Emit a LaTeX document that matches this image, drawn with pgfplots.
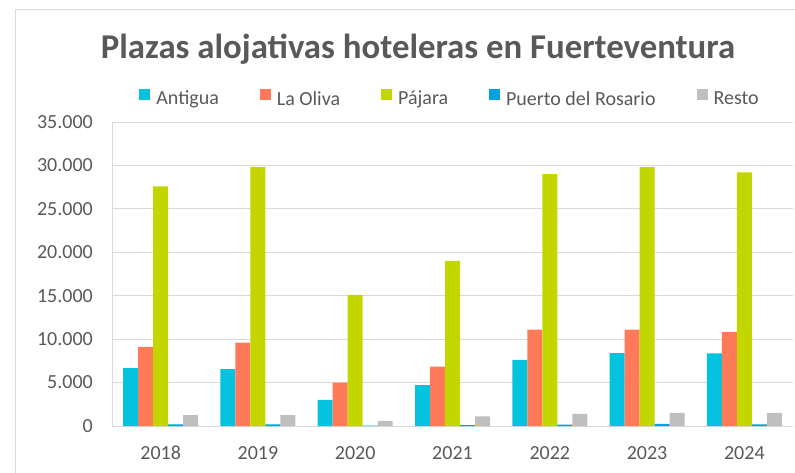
\documentclass[border=0pt]{standalone}
\usepackage{fontspec}
\setmainfont{Carlito}
\usepackage{pgfplots}
\pgfplotsset{compat=1.18}
\definecolor{cAnt}{HTML}{05C3DE}
\definecolor{cOli}{HTML}{FF7A59}
\definecolor{cPaj}{HTML}{C4D600}
\definecolor{cPue}{HTML}{00A3E0}
\definecolor{cRes}{HTML}{BFBFBF}
\definecolor{tgray}{HTML}{595959}
\definecolor{ggray}{HTML}{D9D9D9}
\begin{document}
\begin{tikzpicture}[x=1pt,y=1pt]
\useasboundingbox (0,0) rectangle (795,472);
\draw[ggray, line width=1pt] (15,-5) -- (15,462) -- (800,462);
\node[anchor=base, text=tgray, font=\fontsize{34.8}{40}\selectfont\bfseries, inner sep=0pt] at (418,413) {Plazas alojativas hoteleras en Fuerteventura};
\begin{axis}[at={(112pt,46pt)}, anchor=south west, scale only axis,
  width=681pt, height=304pt,
  ybar=0pt, bar width=15pt,
  xmin=2017.5, xmax=2024.5, ymin=0, ymax=35000,
  xtick={2018,2019,2020,2021,2022,2023,2024},
  ytick={0,5000,10000,15000,20000,25000,30000,35000},
  scaled y ticks=false, scaled x ticks=false,
  /pgf/number format/assume math mode=true,
  yticklabel style={/pgf/number format/1000 sep={.}},
  xticklabel style={/pgf/number format/1000 sep={}},
  major tick length=0pt,
  ymajorgrids, grid style={ggray, line width=1pt},
  axis x line*=bottom, axis y line*=left,
  axis line style={ggray, line width=1pt, -},
  yticklabel style={font=\fontsize{20}{24}\selectfont, text=tgray, inner sep=0pt, xshift=-19pt},
  xticklabel style={font=\fontsize{20}{24}\selectfont, text=tgray, inner sep=0pt, yshift=-20pt},
  legend columns=5,
  legend style={at={(0.4949,1.080)}, anchor=center, draw=none, fill=none,
    font=\fontsize{20}{24}\selectfont, text=tgray, inner sep=0pt,
    nodes={inner sep=0pt},
    /tikz/every even column/.append style={column sep=41pt},
    /tikz/every odd column/.append style={column sep=6pt}},
]
\addplot[fill=cAnt, draw=none, legend image code/.code={\fill[cAnt] (0pt,-1pt) rectangle (11pt,10pt);}]
  coordinates {(2018,6650) (2019,6550) (2020,3000) (2021,4700) (2022,7600) (2023,8400) (2024,8350)};
\addplot[fill=cOli, draw=none, legend image code/.code={\fill[cOli] (0pt,-1pt) rectangle (11pt,10pt);}]
  coordinates {(2018,9100) (2019,9600) (2020,5000) (2021,6850) (2022,11100) (2023,11100) (2024,10800)};
\addplot[fill=cPaj, draw=none, legend image code/.code={\fill[cPaj] (0pt,-1pt) rectangle (11pt,10pt);}]
  coordinates {(2018,27600) (2019,29800) (2020,15100) (2021,19000) (2022,29000) (2023,29800) (2024,29200)};
\addplot[fill=cPue, draw=none, legend image code/.code={\fill[cPue] (0pt,-1pt) rectangle (11pt,10pt);}]
  coordinates {(2018,200) (2019,200) (2020,50) (2021,100) (2022,150) (2023,250) (2024,200)};
\addplot[fill=cRes, draw=none, legend image code/.code={\fill[cRes] (0pt,-1pt) rectangle (11pt,10pt);}]
  coordinates {(2018,1250) (2019,1250) (2020,600) (2021,1100) (2022,1400) (2023,1500) (2024,1500)};
\legend{Antigua, La Oliva, Pájara, Puerto del Rosario, Resto}
\end{axis}
\end{tikzpicture}
\end{document}
